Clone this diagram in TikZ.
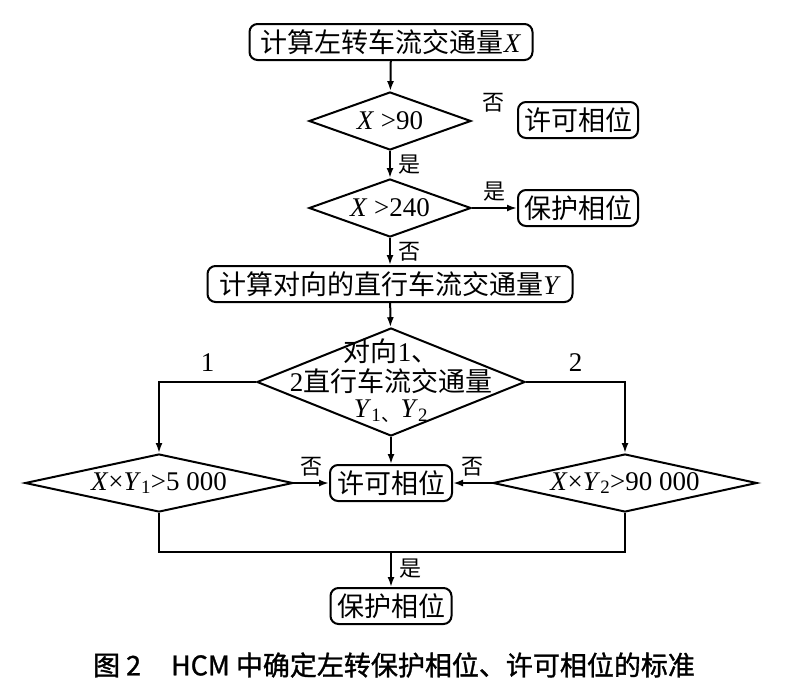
\documentclass[tikz,border=0pt]{standalone}
\usepackage{fontspec}
\setmainfont{Liberation Serif}
\newfontfamily\cjk{Noto Sans CJK SC}
\newfontfamily\capfont{Noto Sans CJK SC}[BoldFont={Noto Sans CJK SC}, BoldFeatures={FakeBold=1.2}]
\usetikzlibrary{arrows.meta}
\usetikzlibrary{shapes.geometric}

\begin{document}
\begin{tikzpicture}[x=1pt, y=-1pt, >={Latex[length=10pt,width=7pt]}, line width=2pt,
        every node/.style={font=\fontsize{27}{26}\selectfont},
        proc/.style={draw, rounded corners=8pt, minimum height=36pt, inner xsep=4pt, inner ysep=0pt},
        decide/.style={draw, diamond, inner sep=0pt, minimum height=58pt},
        lbl/.style={font=\fontsize{22}{22}\selectfont\cjk, inner sep=1pt}]
        \useasboundingbox (0,0) rectangle (787,694);

        \node[proc, minimum width=283pt] (calcX) at (391,42) {{\cjk 计算左转车流交通量}\textit{X}};
        \node[decide, aspect=2.8, minimum width=162pt] (gt90) at (390,121) {\textit{X} >90};
        \node[lbl] (no1) at (493,103) {否};
        \node[proc, minimum width=120pt] (perm1) at (578,120) {\cjk 许可相位};
        \node[decide, aspect=2.8, minimum width=162pt] (gt240) at (390,208) {\textit{X} >240};
        \node[proc, minimum width=120pt] (prot1) at (578,208) {\cjk 保护相位};
        \node[proc, minimum width=365pt] (calcY) at (390,284) {{\cjk 计算对向的直行车流交通量}\textit{Y}};
        \node[decide, minimum width=268pt, minimum height=108pt] (lane) at (391,382)
            {\makebox[0pt]{\begin{tabular}{@{}c@{}}
                {\cjk 对向}1{\cjk 、}\\
                2{\cjk 直行车流交通量}\\
                \textit{Y}\textsubscript{1}\textsubscript{\cjk 、}\textit{Y}\textsubscript{2}
            \end{tabular}}};
        \node[decide, aspect=4.6, minimum width=268pt] (chk1) at (159,483) {\makebox[0pt]{\textit{X}×\textit{Y}\textsubscript{1}>5 000}};
        \node[decide, aspect=4.6, minimum width=264pt] (chk2) at (625,483) {\makebox[0pt]{\textit{X}×\textit{Y}\textsubscript{2}>90 000}};
        \node[proc, minimum width=122pt] (perm2) at (391,483) {\cjk 许可相位};
        \node[proc, minimum width=121pt] (prot2) at (391,606) {\cjk 保护相位};
        \coordinate (join) at (391,551);

        \path[->] (calcX) edge (gt90)
              (gt90) edge node[lbl, right=6pt] {是} (gt240)
              (gt240) edge node[lbl, above=5pt] {是} (prot1)
              (gt240) edge node[lbl, right=6pt] {否} (calcY)
              (calcY) edge (lane)
              (lane) edge (perm2)
              (chk1) edge node[lbl, above=5pt] {否} (perm2)
              (chk2) edge node[lbl, above=5pt] {否} (perm2)
              (join) edge node[lbl, right=6pt] {是} (prot2);
        \draw[->] (lane.west) -| node[pos=0.25, above=6pt] {1} (chk1.north);
        \draw[->] (lane.east) -| node[pos=0.25, above=6pt] {2} (chk2.north);
        \draw (chk1.south) -- ++(0,39) -| (chk2.south);

        \node (cap) at (394,665) {\capfont\bfseries\fontsize{27}{27}\selectfont 图\hspace{6pt}2\hspace{30pt}HCM 中确定左转保护相位、许可相位的标准};
    \end{tikzpicture}
\end{document}
